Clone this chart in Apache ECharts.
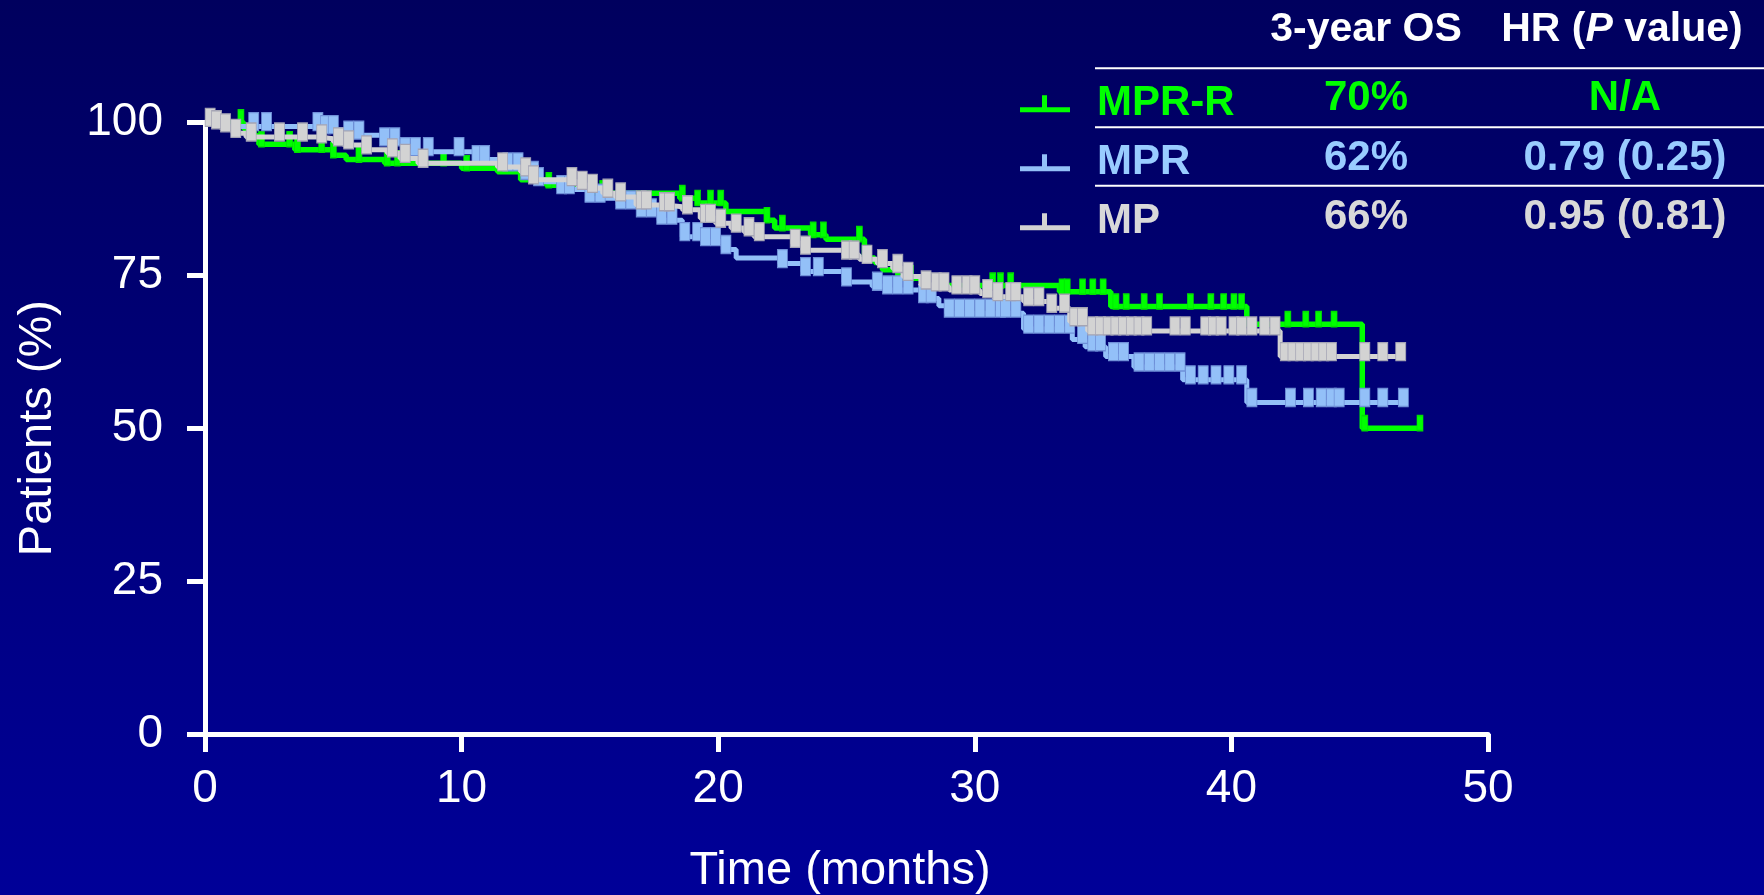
<!DOCTYPE html>
<html><head><meta charset="utf-8">
<script src="https://cdn.jsdelivr.net/npm/echarts@6/dist/echarts.min.js"></script>
<style>html,body{margin:0;padding:0;background:#000078;}#c{width:1764px;height:895px;}</style>
</head><body><div id="c"></div>
<script>
// ---------- data ----------
const groups = ['MPR-R', 'MPR', 'MP'];
const os3yr = ['70%', '62%', '66%'];
const hrP = ['N/A', '0.79 (0.25)', '0.95 (0.81)'];
const headerOS = '3-year OS';
const xTickStep = 10;
const yTickStep = 25;

// MPR-R step curve (time in months, survival %)
const mprrTime = [0, 1.5, 1.9, 2.1, 3.5, 5.0, 5.5, 7.0, 10.0, 11.4, 12.3, 13.3, 15.2, 18.5, 19.2, 20.3, 21.9, 22.2, 23.6, 24.2, 25.7, 26.1, 26.4, 27.0, 28.0, 33.3, 35.3, 40.6, 45.1, 47.35];
const mprrSurv = [100, 99.0, 97.8, 96.4, 95.5, 94.6, 93.9, 93.3, 92.5, 91.9, 90.6, 89.7, 88.4, 87.6, 86.8, 85.4, 84.0, 82.7, 81.6, 80.9, 77.8, 77.1, 75.9, 74.5, 73.3, 72.3, 69.9, 67.0, 50.0, 50.0];
const mprrCensor = [1.4, 1.9, 2.2, 3.3, 3.6, 4.55, 5.0, 6.0, 7.1, 7.5, 9.3, 10.2, 13.4, 15.5, 18.6, 19.2, 19.7, 20.1, 21.9, 22.5, 23.7, 24.1, 25.5, 25.8, 27.5, 30.7, 31.0, 31.4, 33.4, 33.6, 34.2, 34.6, 35.0, 35.5, 35.9, 36.6, 37.2, 38.4, 39.2, 39.7, 40.1, 40.4, 42.2, 42.9, 43.4, 44.0, 45.2, 47.35];

// MPR step curve
const mprTime = [0, 0.8, 4.5, 5.4, 7.0, 7.7, 10.5, 11.8, 12.4, 12.9, 13.8, 15.0, 16.1, 17.0, 17.7, 18.6, 19.4, 20.2, 20.7, 22.4, 23.3, 24.9, 26.0, 26.6, 28.0, 28.6, 28.9, 31.9, 33.8, 34.3, 35.1, 36.2, 38.1, 40.6, 46.8];
const mprSurv = [100, 99.3, 98.8, 97.9, 96.8, 95.2, 93.9, 92.7, 91.3, 90.3, 89.0, 87.6, 86.5, 85.2, 84.0, 81.3, 80.5, 79.2, 77.8, 76.9, 75.6, 73.9, 73.2, 72.6, 71.2, 70.0, 68.8, 66.2, 64.5, 63.3, 61.7, 60.0, 57.9, 54.2, 54.2];
const mprCensor = [1.9, 2.4, 4.4, 4.7, 5.0, 5.6, 6.0, 7.0, 7.4, 7.8, 8.2, 8.7, 9.9, 10.6, 10.9, 11.8, 12.2, 12.5, 12.8, 13.0, 13.9, 14.2, 15.0, 15.4, 16.2, 16.6, 17.0, 17.4, 17.8, 18.2, 18.7, 19.2, 19.5, 19.9, 20.3, 22.5, 23.4, 23.9, 25.0, 26.2, 26.6, 27.0, 27.4, 28.0, 28.3, 29.0, 29.4, 29.8, 30.2, 30.6, 31.0, 31.2, 31.6, 32.1, 32.5, 32.9, 33.3, 33.7, 34.2, 34.6, 34.9, 35.4, 35.8, 36.4, 36.8, 37.2, 37.6, 38.0, 38.4, 38.9, 39.4, 39.9, 40.4, 40.8, 42.3, 43.0, 43.5, 43.9, 44.2, 45.2, 45.9, 46.7];

// MP step curve
const mpTime = [0, 0.3, 0.6, 1.1, 1.6, 4.4, 5.0, 5.4, 6.2, 7.1, 7.6, 8.3, 11.4, 12.3, 12.7, 14.1, 14.5, 14.9, 15.5, 16.0, 16.8, 17.9, 18.6, 19.3, 19.9, 20.5, 21.0, 21.4, 22.9, 23.3, 24.9, 25.5, 26.2, 26.8, 27.2, 27.9, 28.3, 29.0, 30.2, 30.7, 31.9, 33.0, 33.7, 34.4, 41.9, 46.7];
const mpSurv = [100, 99.6, 99.1, 98.2, 97.6, 97.3, 96.8, 96.3, 95.5, 95.0, 94.1, 93.3, 92.7, 91.9, 90.6, 90.3, 89.7, 89.2, 88.4, 87.8, 86.5, 86.2, 85.7, 84.3, 83.5, 82.7, 82.1, 81.3, 80.2, 79.1, 78.3, 77.6, 76.9, 76.1, 74.8, 73.4, 73.1, 72.6, 72.0, 71.5, 70.7, 69.6, 67.4, 65.9, 61.7, 61.7];
const mpCensor = [0.2, 0.45, 0.8, 1.2, 1.8, 2.9, 3.8, 4.55, 5.2, 5.6, 6.3, 7.3, 7.8, 8.5, 11.6, 12.5, 12.8, 14.3, 14.7, 15.1, 15.7, 16.2, 17.0, 17.2, 17.9, 18.1, 18.8, 19.5, 19.7, 20.1, 20.7, 21.2, 21.6, 23.0, 23.4, 25.0, 25.3, 25.8, 26.4, 27.0, 27.4, 28.1, 28.5, 28.8, 29.3, 29.7, 30.0, 30.5, 30.9, 31.4, 31.6, 32.1, 32.5, 33.0, 33.5, 33.9, 34.2, 34.6, 34.9, 35.2, 35.5, 35.8, 36.1, 36.4, 36.7, 37.8, 38.2, 39.0, 39.3, 39.6, 40.1, 40.4, 40.8, 41.3, 41.7, 42.1, 42.4, 42.7, 43.0, 43.3, 43.6, 43.9, 45.2, 45.9, 46.6];

// ---------- styles ----------
const FONT = "'Liberation Sans', Arial, Helvetica, sans-serif";
const lineColors = ['#00ff00', '#93c0f8', '#d3d3d3'];
const textColors = ['#00ff00', '#99ccff', '#d9d9d9'];
const markBorder = ['#00e000', '#6f90d8', '#a4a4b4'];
const markSize = [[6, 15], [10, 18], [10, 18]];
const lineWidths = [5.5, 5, 5];

function stepPairs(ts, ss) { return ts.map((t, i) => [t, ss[i]]); }
function survAt(ts, ss, t) {
  let v = ss[0];
  for (let i = 0; i < ts.length; i++) { if (ts[i] <= t + 1e-9) v = ss[i]; else break; }
  return v;
}
function censorPairs(ts, ss, cs) { return cs.map(c => [c, survAt(ts, ss, c)]); }

const curves = [
  [mprrTime, mprrSurv, mprrCensor],
  [mprTime, mprSurv, mprCensor],
  [mpTime, mpSurv, mpCensor]
];

const series = [];
curves.forEach((cv, i) => {
  // scatter first so the legend icon uses it
  series.push({
    name: groups[i], type: 'scatter', z: 3 + i * 2 + 1,
    symbol: 'rect', symbolSize: markSize[i], symbolOffset: [0, -5],
    itemStyle: { color: lineColors[i], borderColor: markBorder[i], borderWidth: 1, opacity: 1 },
    data: censorPairs(cv[0], cv[1], cv[2]),
    silent: true
  });
  series.push({
    name: groups[i], type: 'line', step: 'end', z: 3 + i * 2,
    showSymbol: false, symbol: 'none',
    lineStyle: { color: lineColors[i], width: lineWidths[i] },
    itemStyle: { color: lineColors[i] },
    data: stepPairs(cv[0], cv[1]),
    silent: true
  });
});

// table texts
const graphics = [];
const rowMid = [98.7, 158.1, 217.1];
graphics.push({
  type: 'text', x: 1366, y: 29.5,
  style: { text: headerOS, fill: '#ffffff', font: 'bold 41px ' + FONT, align: 'center', verticalAlign: 'middle' }
});
graphics.push({
  type: 'text', x: 1622, y: 29.5,
  style: {
    text: '{a|HR (}{b|P}{a| value)}', align: 'center', verticalAlign: 'middle',
    rich: {
      a: { fill: '#ffffff', font: 'bold 41px ' + FONT },
      b: { fill: '#ffffff', font: 'italic bold 41px ' + FONT }
    }
  }
});
[68.3, 127.3, 185.7].forEach(y => {
  graphics.push({ type: 'line', shape: { x1: 1095, y1: y, x2: 1764, y2: y }, style: { stroke: '#ffffff', lineWidth: 2 } });
});
groups.forEach((g, i) => {
  graphics.push({ type: 'text', x: 1366, y: rowMid[i], style: { text: os3yr[i], fill: textColors[i], font: 'bold 42px ' + FONT, align: 'center', verticalAlign: 'middle' } });
  graphics.push({ type: 'text', x: 1625, y: rowMid[i], style: { text: hrP[i], fill: textColors[i], font: 'bold 42px ' + FONT, align: 'center', verticalAlign: 'middle' } });
});

const option = {
  animation: false,
  backgroundColor: {
    type: 'linear', x: 0, y: 0, x2: 0, y2: 1,
    colorStops: [{ offset: 0, color: '#00005e' }, { offset: 1, color: '#000098' }]
  },
  grid: { left: 205, right: 276, top: 122.3, bottom: 161, containLabel: false, outerBoundsMode: 'none' },
  xAxis: {
    type: 'value', min: 0, max: 50, interval: xTickStep,
    name: 'Time (months)', nameLocation: 'middle', nameGap: 114,
    nameTextStyle: { color: '#ffffff', fontSize: 47, fontFamily: FONT, padding: [0, 13, 0, 0] },
    axisLine: { show: true, onZero: false, lineStyle: { color: '#ffffff', width: 5 } },
    axisTick: { show: true, inside: false, length: 18, lineStyle: { color: '#ffffff', width: 5 } },
    axisLabel: { color: '#ffffff', fontSize: 46, fontFamily: FONT, margin: 32 },
    splitLine: { show: false }
  },
  yAxis: {
    type: 'value', min: 0, max: 100, interval: yTickStep,
    name: 'Patients (%)', nameLocation: 'middle', nameGap: 143,
    nameTextStyle: { color: '#ffffff', fontSize: 47, fontFamily: FONT },
    axisLine: { show: true, onZero: false, lineStyle: { color: '#ffffff', width: 5 } },
    axisTick: { show: true, inside: false, length: 18, lineStyle: { color: '#ffffff', width: 5 } },
    axisLabel: { color: '#ffffff', fontSize: 46, fontFamily: FONT, margin: 42 },
    splitLine: { show: false }
  },
  legend: {
    orient: 'vertical', left: 1015, top: 77.7, itemGap: 17,
    itemWidth: 50, itemHeight: 17, selectedMode: false,
    icon: 'path://M0,12L50,12L50,17L0,17ZM22,0L27,0L27,12L22,12Z',
    textStyle: { fontSize: 42, fontWeight: 'bold', fontFamily: FONT, padding: [0, 0, 0, 22] },
    data: groups.map((g, i) => ({ name: g, itemStyle: { color: lineColors[i], borderWidth: 0 }, textStyle: { color: textColors[i] } }))
  },
  graphic: graphics,
  series: series
};

const chart = echarts.init(document.getElementById('c'), null, { renderer: 'canvas' });
chart.setOption(option);
</script>
</body></html>
